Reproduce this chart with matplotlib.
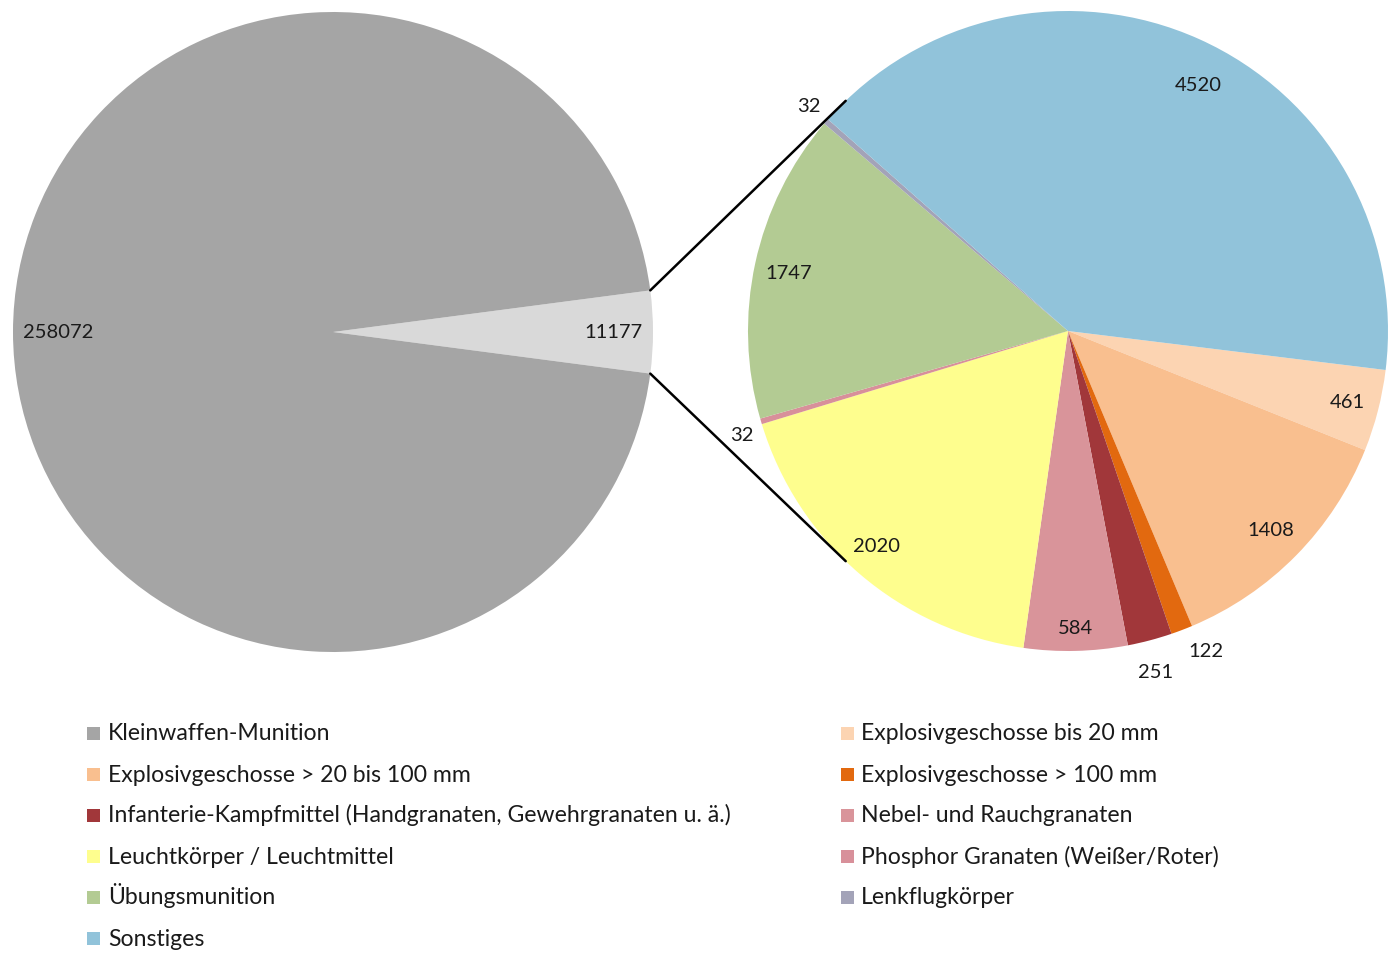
import numpy as np
import matplotlib.pyplot as plt
from matplotlib.patches import Rectangle, ConnectionPatch

plt.rcParams['font.family'] = ['Lato', 'DejaVu Sans']

# --- DATA ---
main_labels = ["Kleinwaffen-Munition", "Andere"]
main_values = [258072, 11177]
main_colors = ["#a5a5a5", "#d9d9d9"]

sub_labels = [
    "Explosivgeschosse bis 20 mm",
    "Explosivgeschosse > 20 bis 100 mm",
    "Explosivgeschosse > 100 mm",
    "Infanterie-Kampfmittel (Handgranaten, Gewehrgranaten u. ä.)",
    "Nebel- und Rauchgranaten",
    "Leuchtkörper / Leuchtmittel",
    "Phosphor Granaten (Weißer/Roter)",
    "Übungsmunition",
    "Lenkflugkörper",
    "Sonstiges",
]
sub_values = [461, 1408, 122, 251, 584, 2020, 32, 1747, 32, 4520]
sub_colors = ["#fcd4b2", "#f9bf8f", "#e2690f", "#a1373a", "#d9949a",
              "#fefe8e", "#d8909a", "#b3cb93", "#a3a3b8", "#91c3da"]

# label placement (radius fraction, angle tweak in degrees); small slices sit outside
sub_label_dist = [0.90, 0.89, 1.09, 1.10, 0.93, 0.90, 1.07, 0.89, 1.07, 0.87]
sub_label_dang = [0, 0, 2.4, -0.5, 0, -1, 1.4, 0.5, 0, -3.8]
main_label_dist = [0.86, 0.875]

LABEL_FS = 14.5
LEGEND_FS = 16.6

fig = plt.figure(figsize=(13.93, 9.59), dpi=100)
W, H = 1393, 959

def px_axes(x0, y0, x1, y1):
    return fig.add_axes([x0 / W, 1 - y1 / H, (x1 - x0) / W, (y1 - y0) / H])

# left pie
ax1 = px_axes(13, 12, 653, 652)
half = main_values[1] / sum(main_values) * 360 / 2
w1, _ = ax1.pie(main_values[::-1], colors=main_colors[::-1], startangle=-half,
                counterclock=True, wedgeprops=dict(linewidth=0))
ax1.set_xlim(-1, 1)
ax1.set_ylim(-1, 1)
for w, val, d in zip(w1, main_values[::-1], main_label_dist[::-1]):
    ang = np.deg2rad((w.theta1 + w.theta2) / 2)
    ax1.text(d * np.cos(ang), d * np.sin(ang), str(val), ha='center', va='center',
             fontsize=LABEL_FS, color='#1a1a1a')

# right pie
ax2 = px_axes(748, 11, 1388, 651)
w2, _ = ax2.pie(sub_values, colors=sub_colors, startangle=-7, counterclock=False,
                wedgeprops=dict(linewidth=0))
ax2.set_xlim(-1, 1)
ax2.set_ylim(-1, 1)
for w, val, d, da in zip(w2, sub_values, sub_label_dist, sub_label_dang):
    ang = np.deg2rad((w.theta1 + w.theta2) / 2 + da)
    ax2.text(d * np.cos(ang), d * np.sin(ang), str(val), ha='center', va='center',
             fontsize=LABEL_FS, color='#1a1a1a')

# connector lines
for a_left, a_right in [(half, 134), (-half, 226)]:
    pa = (np.cos(np.deg2rad(a_left)), np.sin(np.deg2rad(a_left)))
    pb = (np.cos(np.deg2rad(a_right)), np.sin(np.deg2rad(a_right)))
    con = ConnectionPatch(xyA=pa, coordsA=ax1.transData, xyB=pb, coordsB=ax2.transData,
                          color='black', linewidth=1.8)
    fig.add_artist(con)

# legend in two columns, filled row by row
all_labels = main_labels[:1] + sub_labels
all_colors = main_colors[:1] + sub_colors
col_x = [94, 847]      # marker centers (px)
row_y0, row_step = 733, 41
sq = 13
for i, (lab, col) in enumerate(zip(all_labels, all_colors)):
    cx = col_x[i % 2]
    cy = row_y0 + (i // 2) * row_step
    fig.add_artist(Rectangle(((cx - sq / 2) / W, 1 - (cy + sq / 2) / H), sq / W, sq / H,
                             transform=fig.transFigure, facecolor=col, edgecolor='none'))
    fig.text((cx + 14) / W, 1 - (cy + 7.5) / H, lab, ha='left', va='baseline',
             fontsize=LEGEND_FS, color='#1a1a1a')

fig.savefig("out.png", dpi=100)
